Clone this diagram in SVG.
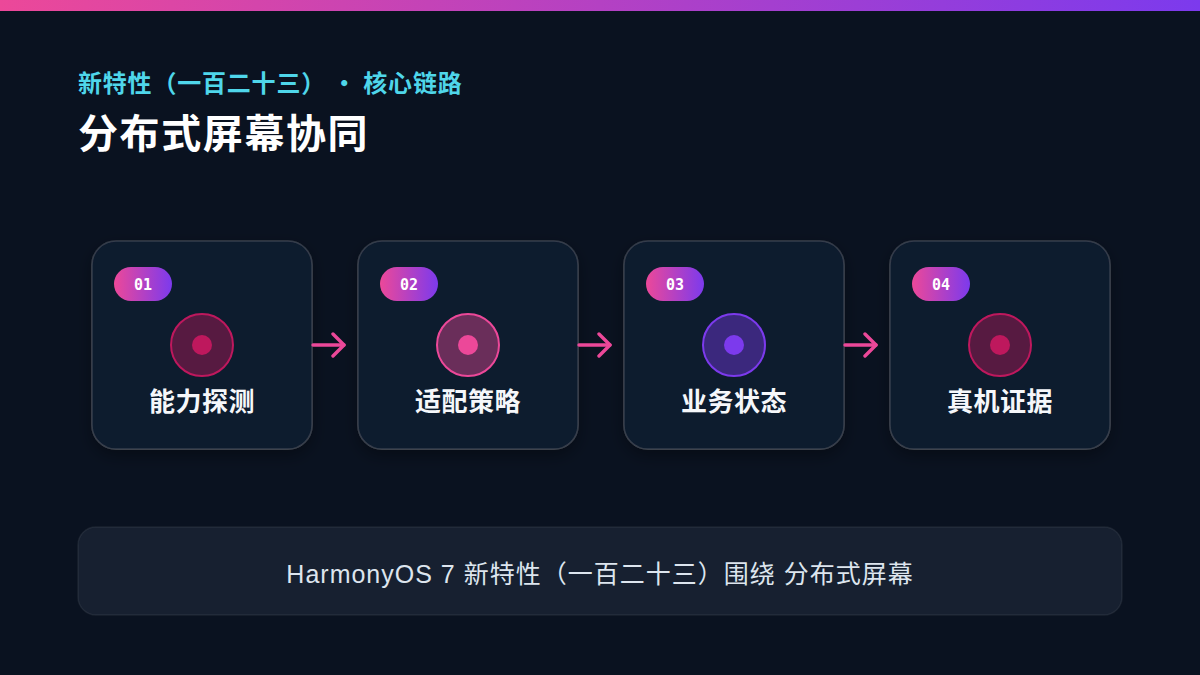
<svg xmlns="http://www.w3.org/2000/svg" width="1200" height="675" viewBox="0 0 1200 675">
<defs>
<linearGradient id="bar" x1="0" y1="0" x2="1" y2="0"><stop offset="0" stop-color="#ec4899"/><stop offset="1" stop-color="#7c3aed"/></linearGradient>
<linearGradient id="badge" x1="0" y1="0" x2="1" y2="0"><stop offset="0" stop-color="#ec4899"/><stop offset="1" stop-color="#7c3aed"/></linearGradient>
<filter id="sh" x="-20%" y="-20%" width="140%" height="140%"><feDropShadow dx="0" dy="6" stdDeviation="8" flood-color="#000" flood-opacity="0.35"/></filter>
<marker id="ah" viewBox="0 0 18 26" refX="15" refY="13" markerWidth="18" markerHeight="26" markerUnits="userSpaceOnUse" orient="auto"><path d="M4 2 L15 13 L4 24" fill="none" stroke="#ec4899" stroke-width="3.4" stroke-linecap="round" stroke-linejoin="round"/></marker>
</defs>
<style>
.card{fill:#0f1b2d;stroke:#ffffff;stroke-opacity:0.16;stroke-width:1.5}
.badge{fill:url(#badge)}
.num{font-family:"DejaVu Sans Mono","Liberation Mono",monospace;font-weight:bold;font-size:15px;fill:#ffffff;text-anchor:middle}
.lbl{font-family:"Noto Sans CJK SC","Noto Sans",sans-serif;font-weight:bold;font-size:26px;letter-spacing:0.5px;fill:#f5f7fa;text-anchor:middle}
.conn{stroke:#ec4899;stroke-width:3.4;stroke-linecap:round;fill:none}
</style>
<rect width="1200" height="675" fill="#0a1220"/>
<rect width="1200" height="11" fill="url(#bar)"/>
<text x="78" y="92" font-family="'Noto Sans CJK SC','Noto Sans',sans-serif" font-weight="bold" font-size="24" letter-spacing="0.8" fill="#4fd6ea">新特性（一百二十三） · 核心链路</text>
<text x="78" y="148" font-family="'Noto Sans CJK SC','Noto Sans',sans-serif" font-weight="bold" font-size="40" letter-spacing="1.6" fill="#ffffff">分布式屏幕协同</text>

<g id="node1">
<rect class="card" x="92" y="241" width="220" height="208" rx="24" filter="url(#sh)"/>
<rect class="badge" x="114" y="267" width="58" height="34" rx="17"/>
<text class="num" x="143" y="290">01</text>
<circle cx="202" cy="345" r="31" fill="#be185d" fill-opacity="0.42" stroke="#be185d" stroke-width="2"/>
<circle cx="202" cy="345" r="10" fill="#be185d"/>
<text class="lbl" x="202" y="411">能力探测</text>
</g>
<g id="node2">
<rect class="card" x="358" y="241" width="220" height="208" rx="24" filter="url(#sh)"/>
<rect class="badge" x="380" y="267" width="58" height="34" rx="17"/>
<text class="num" x="409" y="290">02</text>
<circle cx="468" cy="345" r="31" fill="#ec4899" fill-opacity="0.42" stroke="#ec4899" stroke-width="2"/>
<circle cx="468" cy="345" r="10" fill="#ec4899"/>
<text class="lbl" x="468" y="411">适配策略</text>
</g>
<g id="node3">
<rect class="card" x="624" y="241" width="220" height="208" rx="24" filter="url(#sh)"/>
<rect class="badge" x="646" y="267" width="58" height="34" rx="17"/>
<text class="num" x="675" y="290">03</text>
<circle cx="734" cy="345" r="31" fill="#7c3aed" fill-opacity="0.42" stroke="#7c3aed" stroke-width="2"/>
<circle cx="734" cy="345" r="10" fill="#7c3aed"/>
<text class="lbl" x="734" y="411">业务状态</text>
</g>
<g id="node4">
<rect class="card" x="890" y="241" width="220" height="208" rx="24" filter="url(#sh)"/>
<rect class="badge" x="912" y="267" width="58" height="34" rx="17"/>
<text class="num" x="941" y="290">04</text>
<circle cx="1000" cy="345" r="31" fill="#be185d" fill-opacity="0.42" stroke="#be185d" stroke-width="2"/>
<circle cx="1000" cy="345" r="10" fill="#be185d"/>
<text class="lbl" x="1000" y="411">真机证据</text>
</g>

<g id="connectors">
<line class="conn" x1="313" y1="345" x2="344" y2="345" marker-end="url(#ah)"/>
<line class="conn" x1="579" y1="345" x2="610" y2="345" marker-end="url(#ah)"/>
<line class="conn" x1="845" y1="345" x2="876" y2="345" marker-end="url(#ah)"/>
</g>

<g id="footer">
<rect x="78" y="527" width="1044" height="88" rx="18" fill="#172030" stroke="#ffffff" stroke-opacity="0.07" stroke-width="1.5"/>
<text x="600" y="583" text-anchor="middle" font-family="'Liberation Sans','Noto Sans CJK SC',sans-serif" font-size="25" letter-spacing="1" fill="#dde5ee">HarmonyOS 7 新特性（一百二十三）围绕 分布式屏幕</text>
</g>
</svg>
